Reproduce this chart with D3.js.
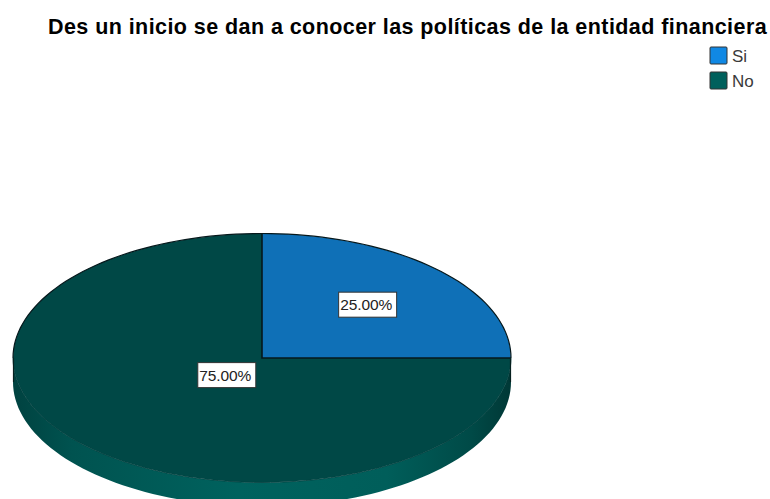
<!DOCTYPE html>
<html>
<head>
<meta charset="utf-8">
<script src="https://cdn.jsdelivr.net/npm/d3@7"></script>
<style>
  html, body { margin: 0; padding: 0; background: #fff; }
  svg { display: block; font-family: "Liberation Sans", Arial, sans-serif; }
</style>
</head>
<body>
<div id="app"></div>
<script>
const title = "Des un inicio se dan a conocer las políticas de la entidad financiera";
const categories = ["Si", "No"];
const percents = [25, 75];

const width = 770;
const height = 499;
const cx = 262;
const cy = 358;
const rx = 249;
const ry = 124.5;
const depth = 24;

const faceColors = d3.scaleOrdinal().domain(categories).range(["#0f70b7", "#004846"]);
const legendColors = d3.scaleOrdinal().domain(categories).range(["#1088e4", "#00605c"]);

const svg = d3.select("#app").append("svg")
  .attr("width", width)
  .attr("height", height);

const defs = svg.append("defs");
const rimGrad = defs.append("linearGradient")
  .attr("id", "rim")
  .attr("gradientUnits", "userSpaceOnUse")
  .attr("x1", cx - rx).attr("x2", cx + rx)
  .attr("y1", 0).attr("y2", 0);
rimGrad.selectAll("stop")
  .data([[0, "#004240"], [0.12, "#005350"], [0.45, "#00625e"], [0.75, "#005e5a"], [0.92, "#004a47"], [1, "#003836"]])
  .enter().append("stop")
  .attr("offset", d => d[0])
  .attr("stop-color", d => d[1]);

svg.append("text")
  .attr("x", 48)
  .attr("y", 34)
  .attr("font-size", 21.5)
  .attr("font-weight", "bold")
  .attr("letter-spacing", 0.43)
  .attr("fill", "#000")
  .text(title);

// legend
const legend = svg.append("g").selectAll("g")
  .data(categories)
  .enter().append("g")
  .attr("transform", (d, i) => `translate(710,${47 + i * 25})`);

legend.append("rect")
  .attr("width", 17)
  .attr("height", 17)
  .attr("rx", 1)
  .attr("fill", d => legendColors(d))
  .attr("stroke", "#333")
  .attr("stroke-width", 1);

legend.append("text")
  .attr("x", 22)
  .attr("y", 15)
  .attr("font-size", 17)
  .attr("fill", "#3a3a3a")
  .text(d => d);

// side of the disc, only the front half shows
const rimAngles = d3.range(0, 181, 2).map(d => d * Math.PI / 180);
const rim = d3.area()
  .x(a => cx + rx * Math.cos(a))
  .y0(a => cy + ry * Math.sin(a))
  .y1(a => cy + ry * Math.sin(a) + depth);

svg.append("path")
  .attr("d", rim(rimAngles))
  .attr("fill", "url(#rim)");

// top face: pie squashed to an ellipse
const pie = d3.pie().sort(null).value(d => d);
const arc = d3.arc().innerRadius(0).outerRadius(rx);
const arcs = pie(percents);

const face = svg.append("g")
  .attr("transform", `translate(${cx},${cy}) scale(1,${ry / rx})`);

face.selectAll("path")
  .data(arcs)
  .enter().append("path")
  .attr("d", arc)
  .attr("fill", (d, i) => faceColors(categories[i]));

// soft front edge of the top face
svg.append("path")
  .attr("d", d3.line().x(a => cx + rx * Math.cos(a)).y(a => cy + ry * Math.sin(a))(rimAngles))
  .attr("fill", "none")
  .attr("stroke", "#003f3d")
  .attr("stroke-width", 0.8);

// dark outline: back half of the ellipse and the two slice radii
const backAngles = d3.range(180, 361, 2).map(d => d * Math.PI / 180);
svg.append("path")
  .attr("d", d3.line().x(a => cx + rx * Math.cos(a)).y(a => cy + ry * Math.sin(a))(backAngles))
  .attr("fill", "none")
  .attr("stroke", "#06181c")
  .attr("stroke-width", 1.2);

svg.append("path")
  .attr("d", d3.line()(arcs.map(d => [
    cx + rx * Math.sin(d.startAngle),
    cy - ry * Math.cos(d.startAngle)
  ]).flatMap((p, i) => i === 0 ? [p, [cx, cy]] : [p])))
  .attr("fill", "none")
  .attr("stroke", "#06181c")
  .attr("stroke-width", 1.6);

// dark ends of the side at left and right
[cx - rx + 0.5, cx + rx - 0.5].forEach(x => {
  svg.append("line")
    .attr("x1", x).attr("x2", x)
    .attr("y1", cy).attr("y2", cy + depth)
    .attr("stroke", "#06201f")
    .attr("stroke-width", 1.2);
});

// data labels
const labelRadius = [0.6, 0.2];
const label = svg.append("g").selectAll("g")
  .data(arcs)
  .enter().append("g")
  .attr("transform", (d, i) => {
    const a = (d.startAngle + d.endAngle) / 2;
    const r = labelRadius[i];
    return `translate(${cx + rx * r * Math.sin(a)},${cy - ry * r * Math.cos(a)})`;
  });

label.append("rect")
  .attr("x", -29)
  .attr("y", -13)
  .attr("width", 58)
  .attr("height", 25)
  .attr("fill", "#fff")
  .attr("stroke", "#333")
  .attr("stroke-width", 1);

label.append("text")
  .attr("x", -1.5)
  .attr("y", 5)
  .attr("text-anchor", "middle")
  .attr("font-size", 15.5)
  .attr("letter-spacing", -0.1)
  .attr("fill", "#222")
  .text(d => d3.format(".2f")(d.value) + "%");
</script>
</body>
</html>
